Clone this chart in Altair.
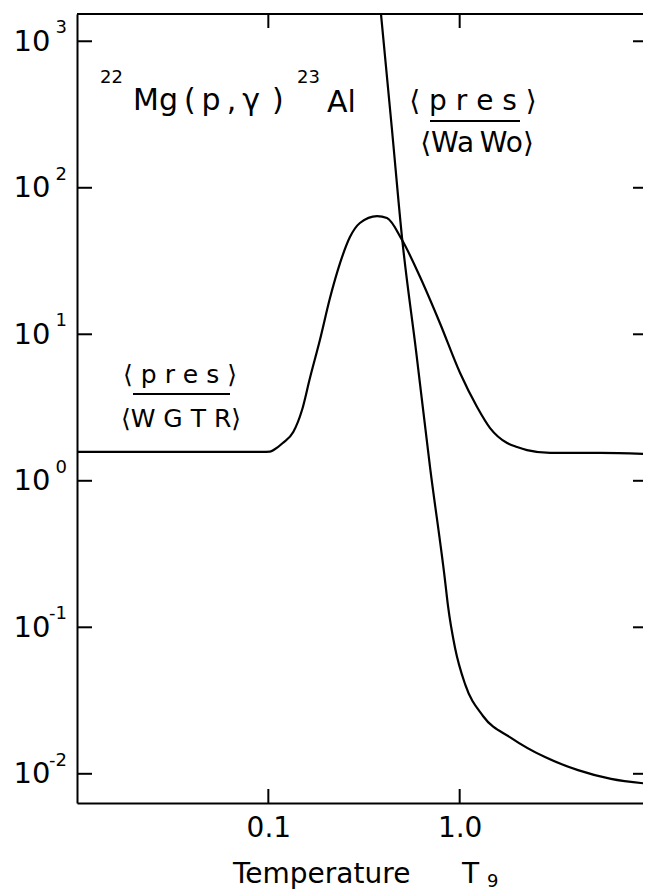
import altair as alt
import pandas as pd

# ---- data ----
T_WGTR = [0.01, 0.0927, 0.102, 0.108, 0.119, 0.135, 0.150, 0.165, 0.186, 0.210, 0.237, 0.267, 0.301,
          0.370, 0.417, 0.500, 0.621, 0.789, 1.005, 1.233, 1.442, 1.770, 1.995, 2.249, 2.972, 5.42, 10.0]
R_WGTR = [1.573, 1.573, 1.58, 1.64, 1.81, 2.15, 3.04, 5.03, 9.14, 17.7, 30.6, 46.1, 57.5,
          64.1, 62.1, 44.0, 24.6, 11.9, 5.44, 3.19, 2.29, 1.81, 1.70, 1.62, 1.55, 1.55, 1.52]

T_WAWO = [0.388, 0.443, 0.500, 0.591, 0.700, 0.838, 0.869, 0.946, 1.066, 1.324, 1.855, 2.793, 4.155, 6.18, 9.88]
R_WAWO = [1530, 248, 45.4, 7.81, 1.24, 0.210, 0.140, 0.0723, 0.0411, 0.0248, 0.0176, 0.0130, 0.0106, 0.00923, 0.00853]

Y_TICKS = [1000, 100, 10, 1, 0.1, 0.01]
Y_EXP = ["3", "2", "1", "0", "-1", "-2"]
X_TICKS = [0.1, 1.0]
X_DOMAIN = [0.01, 9.082]   # the frame's right edge sits at the picture's edge
Y_DOMAIN = [0.00632, 1535]

TITLE_PRE = "22"
TITLE_MID = "Mg\u2009(\u2009p\u2009,\u2009\u03b3\u2009\u2009)"
TITLE_PRE2 = "23"
TITLE_END = "Al"
NUM = "\u27e8 p r e s \u27e9"
DEN_WAWO = "\u27e8Wa\u2009Wo\u27e9"
DEN_WGTR = "\u27e8W G T R\u27e9"
XTITLE = "Temperature"
XTITLE_T = "T"
XTITLE_SUB = "9"

FONT = "DejaVu Sans"
W, H = 566, 789

curves = pd.concat([
    pd.DataFrame({"T": T_WGTR, "R": R_WGTR, "s": "WGTR"}),
    pd.DataFrame({"T": T_WAWO, "R": R_WAWO, "s": "WaWo"}),
])
yt = pd.DataFrame({"R": Y_TICKS, "exp": Y_EXP})
xt = pd.DataFrame({"T": X_TICKS})
one = pd.DataFrame({"a": [0]})

xs = alt.Scale(type="log", domain=X_DOMAIN, nice=False)
ys = alt.Scale(type="log", domain=Y_DOMAIN, nice=False)
xax = alt.Axis(values=X_TICKS, format=".1f", title=None, ticks=False, tickSize=0, grid=False,
               domainColor="black", domainWidth=2, labelFont=FONT, labelFontSize=28,
               labelColor="black", labelPadding=11)
yax = alt.Axis(values=Y_TICKS, labelExpr="'10'", title=None, ticks=False, tickSize=0, grid=False,
               domainColor="black", domainWidth=2, labelFont=FONT, labelFontSize=29,
               labelColor="black", labelPadding=27)

X = alt.X("T:Q", scale=xs, axis=xax)
Y = alt.Y("R:Q", scale=ys, axis=yax)

lines = alt.Chart(curves).mark_line(color="black", strokeWidth=2.2, interpolate="monotone", clip=True).encode(
    x=X, y=Y, detail="s:N")

tick_l = alt.Chart(yt).mark_rule(color="black", strokeWidth=2).encode(y=Y, x=alt.value(0), x2=alt.value(15))
tick_r = alt.Chart(yt).mark_rule(color="black", strokeWidth=2).encode(y=Y, x=alt.value(W - 10), x2=alt.value(W))
tick_t = alt.Chart(xt).mark_rule(color="black", strokeWidth=2).encode(x=X, y=alt.value(0), y2=alt.value(14))
tick_b = alt.Chart(xt).mark_rule(color="black", strokeWidth=2).encode(x=X, y=alt.value(H - 14), y2=alt.value(H))
top_line = alt.Chart(one).mark_rule(color="black", strokeWidth=2).encode(
    x=alt.value(0), x2=alt.value(W), y=alt.value(0))

exps = alt.Chart(yt).mark_text(align="right", baseline="middle", font=FONT, fontSize=18, dy=-13,
                               color="black").encode(y=Y, x=alt.value(-10), text="exp:N")


def txt(s, x, y, size, align="left"):
    return alt.Chart(pd.DataFrame({"t": [s]})).mark_text(
        align=align, baseline="alphabetic", font=FONT, fontSize=size, color="black"
    ).encode(x=alt.value(x), y=alt.value(y), text="t:N")


def hline(x1, x2, y):
    return alt.Chart(one).mark_rule(color="black", strokeWidth=2).encode(
        x=alt.value(x1), x2=alt.value(x2), y=alt.value(y))


annot = [
    txt(TITLE_PRE, 23, 69, 18),
    txt(TITLE_MID, 56, 96, 30),
    txt(TITLE_PRE2, 220, 69, 18),
    txt(TITLE_END, 250, 98, 30),
    txt(NUM, 396, 96, 28, "center"),
    hline(353, 443, 107),
    txt(DEN_WAWO, 400, 138, 28, "center"),
    txt(NUM, 103, 369, 25, "center"),
    hline(56, 153, 380),
    txt(DEN_WGTR, 104, 413, 25, "center"),
    txt(XTITLE, 156, 869, 28),
    txt(XTITLE_T, 385, 869, 28),
    txt(XTITLE_SUB, 410, 873, 18),
]

chart = alt.layer(lines, tick_l, tick_r, tick_t, tick_b, top_line, exps, *annot).properties(
    width=W, height=H,
    padding={"left": 69, "top": 6, "right": 0, "bottom": 89},
    autosize=alt.AutoSizeParams(type="none"),
    background="white",
).configure_view(stroke=None)

chart.save("out.html", embed_options={"renderer": "svg", "actions": False})
